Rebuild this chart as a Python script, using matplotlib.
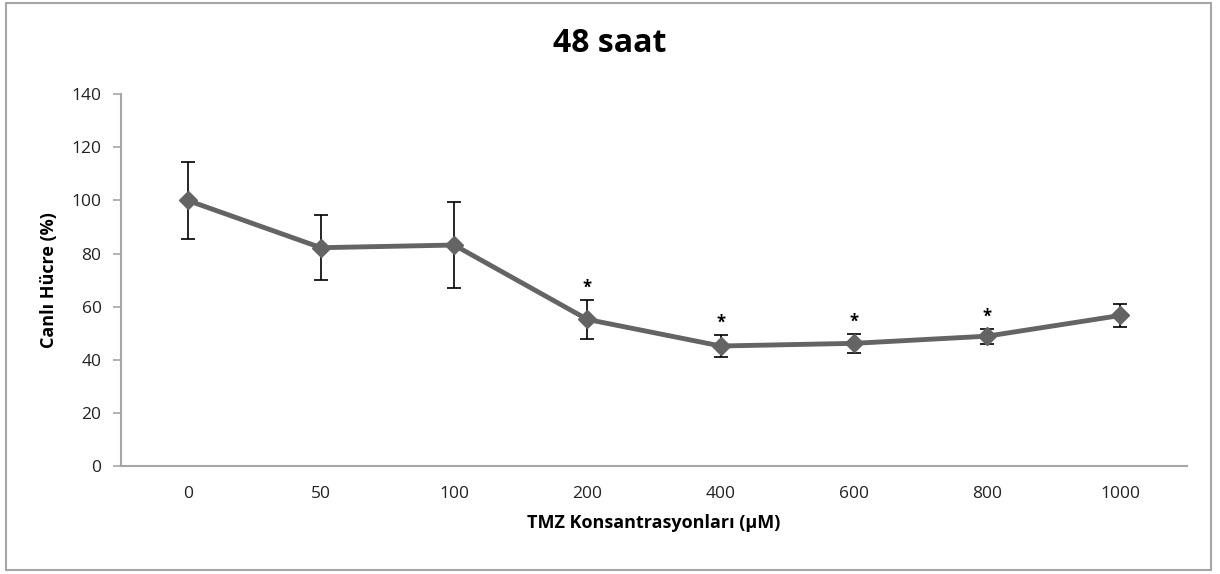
import numpy as np
import matplotlib
matplotlib.use("Agg")
import matplotlib.pyplot as plt
from matplotlib.patches import FancyBboxPatch

plt.rcParams["font.family"] = ["Open Sans", "DejaVu Sans"]

concentrations = ["0", "50", "100", "200", "400", "600", "800", "1000"]
viability = [100.0, 82.2, 83.2, 55.2, 45.2, 46.2, 48.9, 56.7]
sd = [14.5, 12.3, 16.3, 7.4, 4.2, 3.7, 2.8, 4.4]
significant = [False, False, False, True, True, True, True, False]

fig = plt.figure(figsize=(12.2, 5.74), dpi=100)
ax = fig.add_axes([0.0992, 0.188, 0.8738, 0.648])

# outer chart border
fig.patches.append(FancyBboxPatch((0.005, 0.007), 0.988, 0.988, boxstyle="square,pad=0",
                                  transform=fig.transFigure, fill=False,
                                  edgecolor="#a6a6a6", lw=1.5))

x = np.arange(len(concentrations))
ax.errorbar(x, viability, yerr=sd, fmt="none", ecolor="black", elinewidth=1.2,
            capsize=5, capthick=1.2, zorder=2)
ax.plot(x, viability, color="#646464", lw=3.5, marker="D", ms=9,
        mfc="#646464", mec="#646464", zorder=3)

for xi, v, e, s in zip(x, viability, sd, significant):
    if s:
        ax.text(xi, v + e + 1.0, "*", ha="center", va="bottom", fontsize=12,
                fontweight="bold", color="black")

ax.set_xlim(-0.5, len(concentrations) - 0.5)
ax.set_ylim(0, 140)
ax.set_yticks(range(0, 141, 20))
ax.set_xticks(x)
ax.set_xticklabels(concentrations)

for side in ("top", "right"):
    ax.spines[side].set_visible(False)
for side in ("left", "bottom"):
    ax.spines[side].set_color("#a6a6a6")
    ax.spines[side].set_linewidth(1.5)
ax.tick_params(axis="y", length=6, width=1.2, color="#a6a6a6", labelsize=12.5,
               labelcolor="#222222", pad=8)
ax.tick_params(axis="x", length=0, labelsize=12.5, labelcolor="#222222", pad=14)

ax.set_ylabel("Canlı Hücre (%)", fontsize=13, fontweight="bold", labelpad=10)
ax.set_xlabel("TMZ Konsantrasyonları (µM)", fontsize=13, fontweight="bold", labelpad=9)
fig.text(0.5, 0.924, "48 saat", ha="center", va="center", fontsize=23, fontweight="bold")

fig.savefig("out.png", dpi=100)
